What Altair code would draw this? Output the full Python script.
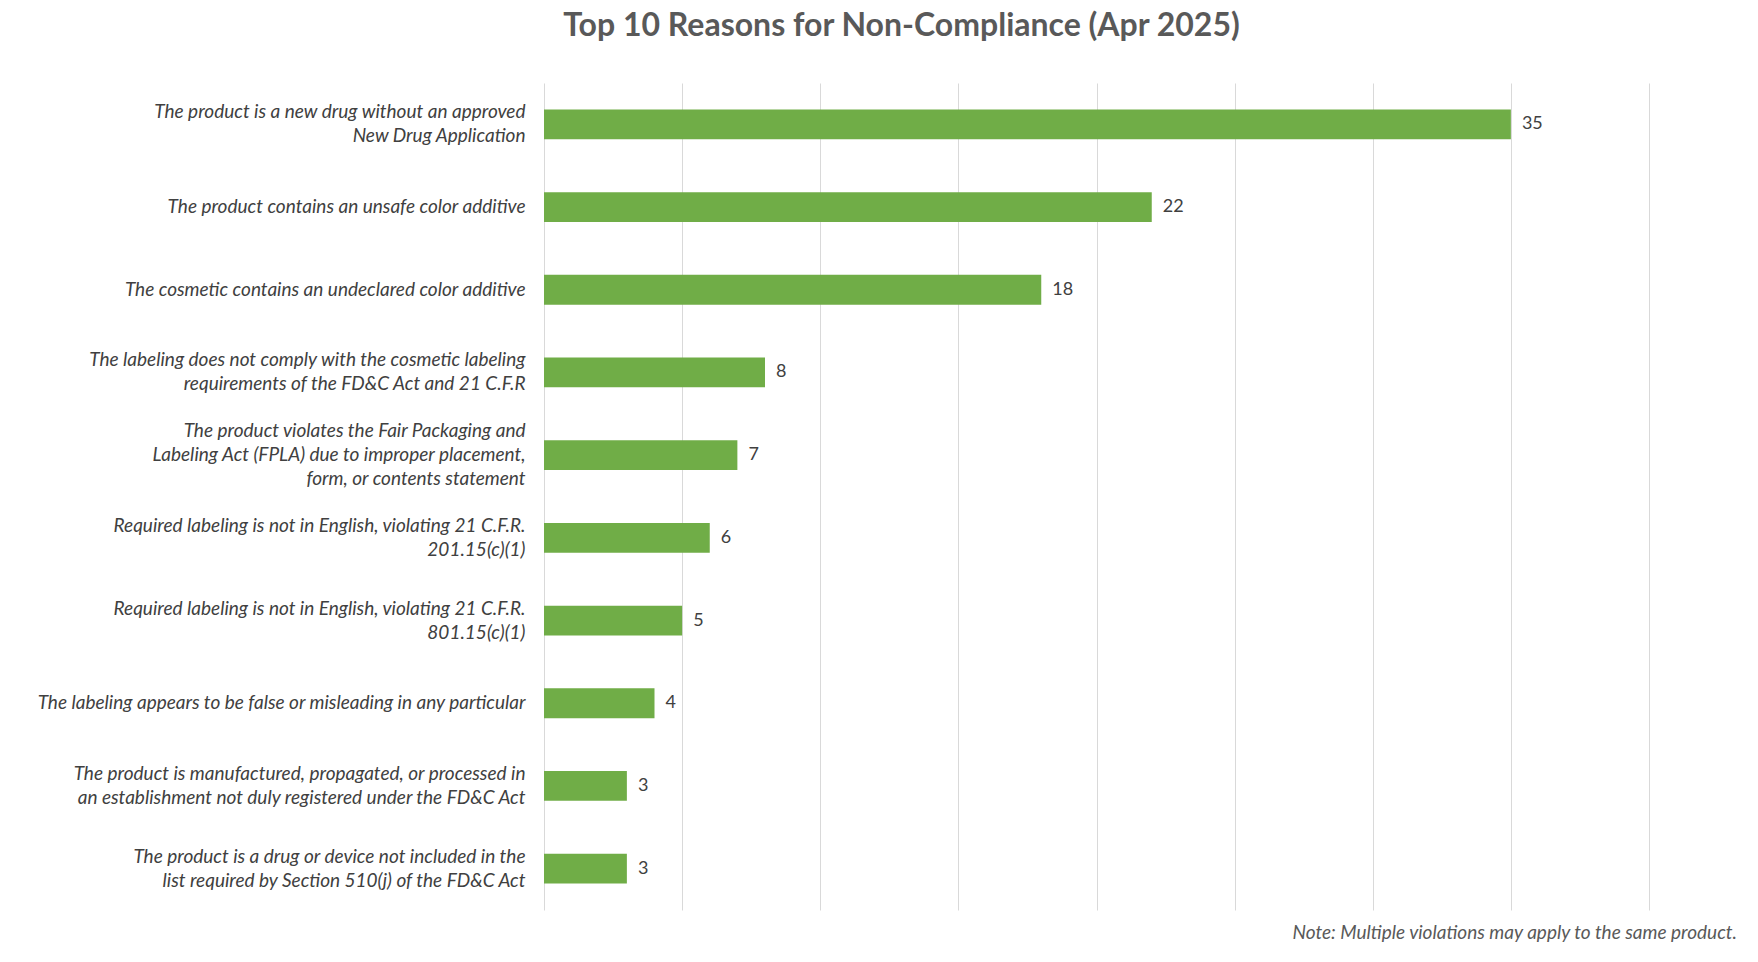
import altair as alt
import pandas as pd

reasons = [
    "The product is a new drug without an approved|New Drug Application",
    "The product contains an unsafe color additive",
    "The cosmetic contains an undeclared color additive",
    "The labeling does not comply with the cosmetic labeling|requirements of the FD&C Act and 21 C.F.R",
    "The product violates the Fair Packaging and|Labeling Act (FPLA) due to improper placement,|form, or contents statement",
    "Required labeling is not in English, violating 21 C.F.R.|201.15(c)(1)",
    "Required labeling is not in English, violating 21 C.F.R.|801.15(c)(1)",
    "The labeling appears to be false or misleading in any particular",
    "The product is manufactured, propagated, or processed in|an establishment not duly registered under the FD&C Act",
    "The product is a drug or device not included in the|list required by Section 510(j) of the FD&C Act",
]
counts = [35, 22, 18, 8, 7, 6, 5, 4, 3, 3]
x_ticks = [0, 5, 10, 15, 20, 25, 30, 35, 40]
title_text = "Top 10 Reasons for Non-Compliance (Apr 2025)"
note_text = "Note: Multiple violations may apply to the same product."

df = pd.DataFrame({"reason": reasons, "count": counts})
FONT = "Lato"
LINE_H = 24

y_enc = alt.Y(
    "reason:N",
    sort=reasons,
    title=None,
    scale=alt.Scale(paddingInner=0.64, paddingOuter=0.32),
    axis=alt.Axis(
        labelExpr="split(datum.label, '|')",
        labelFont=FONT,
        labelFontStyle="italic",
        labelFontSize=19,
        labelColor="#404040",
        labelLineHeight=LINE_H,
        labelLimit=560,
        labelPadding=19,
        labelOffset={"expr": f"-(length(split(datum.label, '|')) - 1) * {LINE_H / 2}"},
        ticks=False,
        domain=False,
        grid=False,
    ),
)
x_enc = alt.X(
    "count:Q",
    title=None,
    scale=alt.Scale(domain=[0, 40], nice=False),
    axis=alt.Axis(
        values=x_ticks,
        labels=False,
        ticks=False,
        domain=False,
        grid=True,
        gridColor="#D9D9D9",
        gridWidth=1,
    ),
)

bars = alt.Chart(df).mark_bar(color="#70AD47").encode(x=x_enc, y=y_enc)
values = alt.Chart(df).mark_text(
    align="left", baseline="middle", dx=11, font=FONT, fontSize=18, color="#404040"
).encode(x=x_enc, y=y_enc, text="count:Q")

note = alt.Chart(pd.DataFrame({"t": [note_text]})).mark_text(
    align="right", baseline="alphabetic", font=FONT, fontStyle="italic",
    fontSize=19, color="#595959"
).encode(x=alt.value(1193), y=alt.value(856), text="t:N")

chart = (
    alt.layer(bars, values, note)
    .properties(
        width=1105,
        height=827,
        autosize=alt.AutoSizeParams(type="none"),
        padding={"left": 544, "top": 83, "right": 109, "bottom": 52},
        view=alt.ViewBackground(stroke="transparent", strokeWidth=0),
        title=alt.TitleParams(
            text=title_text,
            font=FONT,
            fontSize=32,
            fontWeight="bold",
            color="#595959",
            anchor="middle",
            frame="group",
            dx=-195,
            offset=40,
        ),
    )
    .configure_view(stroke="transparent", strokeWidth=0)
    .configure_axis(domain=False, ticks=False)
    .configure_axisY(grid=False)
    .configure(background="white")
)

chart.save("out.html", embed_options={"renderer": "svg", "actions": False})
